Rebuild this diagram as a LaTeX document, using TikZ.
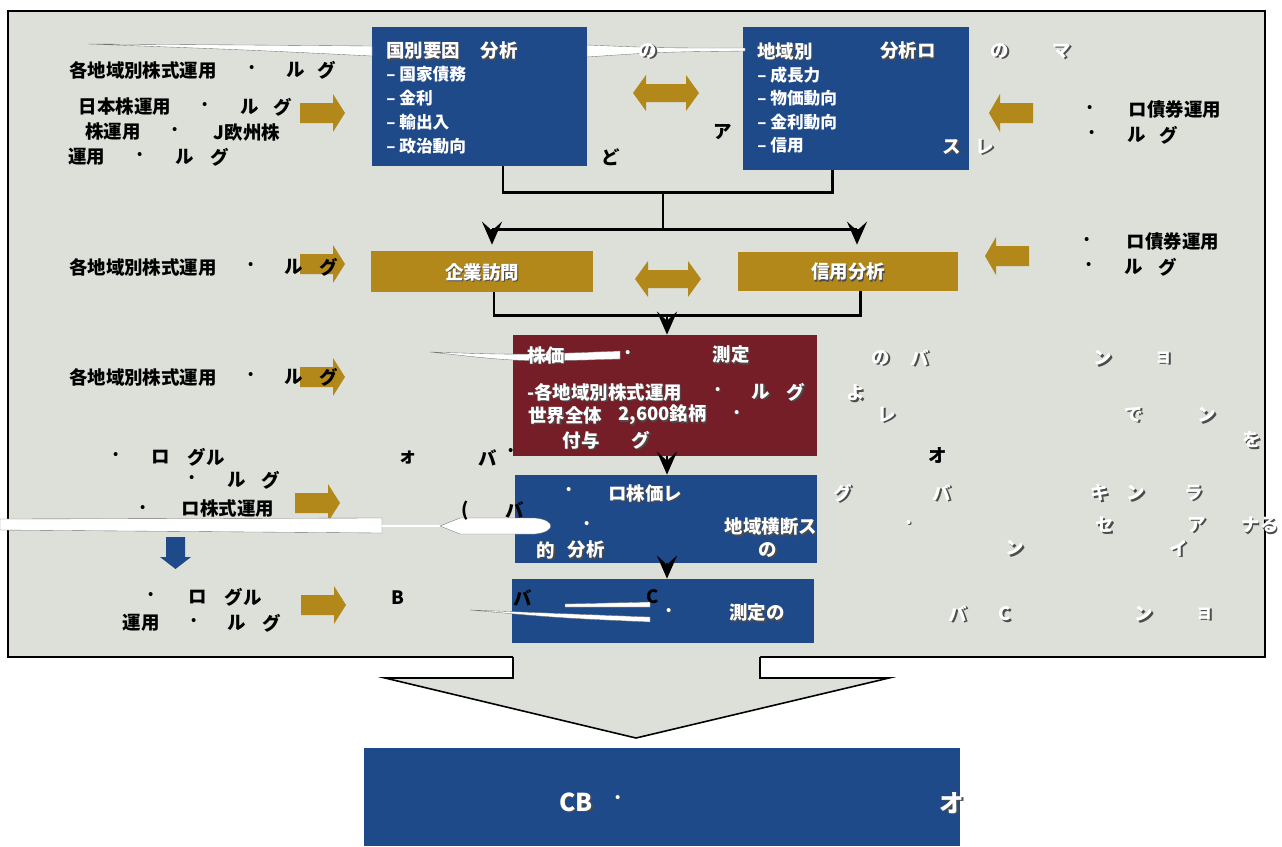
\documentclass[tikz,border=0pt]{standalone}
\usepackage{fontspec}
\setmainfont{Noto Sans CJK JP}
\usepackage{xcolor}
\usetikzlibrary{arrows.meta}
\definecolor{panelgray}{RGB}{220,224,216}
\definecolor{boxblue}{RGB}{31,74,138}
\definecolor{boxgold}{RGB}{178,136,26}
\definecolor{boxred}{RGB}{117,30,39}
\tikzset{>=Stealth}
\tikzset{
  jp/.style={font=\bfseries\fontsize{10.5}{12}\selectfont, inner sep=0pt},
  blk/.style={jp, text=black},
  wht/.style={jp, text=white},
  shd/.style={jp, text=black!70},
  item/.style={jp, text=white, anchor=west, font=\bfseries\fontsize{9.5}{11}\selectfont},
  big/.style={jp, text=white, font=\bfseries\fontsize{14}{16}\selectfont},
  box/.style={inner sep=0pt, draw=none},
  conn/.style={line width=1.7pt, line join=miter},
  flow/.style={conn, -{Stealth[length=0.46cm,width=0.4cm,inset=0.18cm]}},
  streak/.style={fill=white, draw=black!55, line width=0.2pt},
}

\begin{document}
\begin{tikzpicture}[x=0.02cm, y=-0.02cm]
    \useasboundingbox (0,0) rectangle (1282,846);
    \fill[white] (0,0) rectangle (1282,846);
    % panel and the big arrow below it
    \filldraw[fill=panelgray, draw=black, line width=0.9pt] (8,11) rectangle (1265,657);
    \fill[panelgray] (513,655) -- (513,678) -- (385,678) -- (636,738) -- (889,678) -- (760,678) -- (760,655) -- cycle;
    \draw[line width=0.9pt] (513,657) -- (513,678) -- (385,678) -- (636,738) -- (889,678) -- (760,678) -- (760,657);

    % boxes
    \node[box, fill=boxblue, minimum width=4.30cm, minimum height=2.78cm] (b1) at (479.5,96.5) {};
    \node[box, fill=boxblue, minimum width=4.52cm, minimum height=2.86cm] (b2) at (856,98.5) {};
    \node[box, fill=boxgold, minimum width=4.44cm, minimum height=0.82cm] (g1) at (482,271.5) {};
    \node[box, fill=boxgold, minimum width=4.40cm, minimum height=0.78cm] (g2) at (848,271.5) {};
    \node[box, fill=boxred, minimum width=6.08cm, minimum height=2.42cm] (r1) at (665,395.5) {};
    \node[box, fill=boxblue, minimum width=6.04cm, minimum height=1.76cm] (b3) at (666,519) {};
    \node[box, fill=boxblue, minimum width=6.04cm, minimum height=1.28cm] (b4) at (663,611) {};
    \node[box, fill=boxblue, minimum width=11.92cm, minimum height=1.96cm] (b5) at (662,797) {};

    % connectors
    \coordinate (k1) at (503,192);
    \coordinate (k2) at (832,192);
    \coordinate (k3) at (663,192);
    \coordinate (k4) at (663,229);
    \coordinate (k5) at (492,229);
    \coordinate (k6) at (857,229);
    \coordinate (k7) at (494,315);
    \coordinate (k8) at (860,315);
    \coordinate (k9) at (667,315);
    \draw[conn] (b1.south -| k1) -- (k1) -- (k2) -- (b2.south -| k2);
    \draw[conn] (k3) -- (k4);
    \draw[conn] (k5) -- (k6);
    \draw[flow, shorten >=0.12cm] (k5) -- (g1.north -| k5);
    \draw[flow, shorten >=0.14cm] (k6) -- (g2.north -| k6);
    \draw[conn] (g1.south -| k7) -- (k7) -- (k8) -- (g2.south -| k8);
    \draw[flow] (k9) -- (r1.north -| k9);
    \draw[flow] (r1.south -| k9) -- (b3.north -| k9);
    \draw[flow] (b3.south -| k9) -- (b4.north -| k9);

    % block arrows
    \foreach \x/\y in {300/113, 300/264, 300/377, 295/503, 301/605}
        \fill[boxgold] (\x,\y-10) -- ++(33,0) -- ++(0,-9) -- ++(12,19) -- ++(-12,19) -- ++(0,-9) -- ++(-33,0) -- cycle;
    \foreach \x/\y in {989/113, 985/256}
        \fill[boxgold] (\x,\y) -- ++(11,-19) -- ++(0,9) -- ++(33,0) -- ++(0,20) -- ++(-33,0) -- ++(0,9) -- cycle;
    \foreach \x/\y in {633/93, 635/279}
        \fill[boxgold] (\x,\y) -- ++(13,-18) -- ++(0,9) -- ++(40,0) -- ++(0,-9) -- ++(13,18) -- ++(-13,18) -- ++(0,-9) -- ++(-40,0) -- ++(0,9) -- cycle;
    \fill[boxblue] (166,537) -- (185,537) -- (185,557) -- (191,557) -- (175.5,569) -- (160,557) -- (166,557) -- cycle;

    % white streaks
    \filldraw[streak] (88,44) .. controls (250,45) .. (372,46) -- (372,56) .. controls (250,50) .. (88,44) -- cycle;
    \filldraw[streak] (587,45) .. controls (660,48) .. (745,48) -- (745,51) .. controls (660,52) .. (587,57) -- cycle;
    \filldraw[streak] (430,352) .. controls (520,355) .. (620,351) -- (620,359) .. controls (520,362) .. (430,352) -- cycle;
    \filldraw[streak] (0,519) -- (382,518) -- (382,533) -- (0,530) -- cycle;
    \draw[white, line width=1.5pt] (382,526) -- (452,526);
    \filldraw[streak] (440,526) -- (460,518) -- (535,518) .. controls (556,520) and (556,532) .. (535,534) -- (460,534) -- cycle;
    \filldraw[streak] (470,610) .. controls (560,618) .. (650,622) -- (650,617) .. controls (560,614) .. (470,610) -- cycle;
    \filldraw[streak] (565,604) -- (650,602) -- (650,607) -- (565,607) -- cycle;

    % black texts
    \foreach \x/\y/\t [count=\i] in {143/70/各地域別株式運用, 252/70/·, 296/70/ル, 327/70/グ,
        125/107/日本株運用, 205/107/·, 250/107/ル, 283/107/グ,
        113/132/株運用, 175/132/·, 247/132/J欧州株,
        87/157/運用, 140/157/·, 185/157/ル, 220/157/グ,
        723/132/ア, 611/157/ど,
        1090/110/·, 1175/110/ロ債券運用, 1092/135/·, 1137/135/ル, 1169/135/グ,
        143/267/各地域別株式運用, 251/267/·, 294/267/ル, 329/267/グ,
        1087/242/·, 1173/242/ロ債券運用, 1089/267/·, 1134/267/ル, 1168/267/グ,
        143/377/各地域別株式運用, 251/377/·, 294/377/ル, 329/377/グ,
        116/457/·, 161/457/ロ, 206/457/グル, 408/458/ォ, 488/458/バ, 511/453/·, 938/455/オ,
        192/480/·, 237/480/ル, 271/480/グ,
        143/510/·, 228/508/ロ株式運用, 465/511/(, 515/510/バ,
        151/597/·, 198/597/ロ, 243/597/グル,
        141/623/運用, 194/623/·, 237/623/ル, 272/623/グ,
        398/598/B, 523/598/バ, 653/597/C}
        \node[blk] (bk\i) at (\x,\y) {\t};

    % white texts, each with its dark shadow
    \foreach \x/\y/\t [count=\i] in {423/51/国別要因, 499/51/分析, 648/51/の,
        785/51/地域別, 908/51/分析ロ, 1000/51/の, 1062/51/マ, 952/147/ス, 985/147/レ,
        482/272/企業訪問, 848/272/信用分析,
        546/355/株価, 628/355/·, 731/355/測定, 718/392/·, 761/392/ル, 796/392/グ, 737/415/·,
        581/440/付与, 641/440/グ,
        881/358/の, 920/358/バ, 1103/358/ン, 1164/358/ョ, 856/393/よ,
        887/415/レ, 1134/415/で, 1207/415/ン, 1252/440/を,
        569/492/·, 645/493/ロ株価レ, 587/526/·, 771/527/地域横断ス,
        546/550/的, 586/550/分析, 768/550/の,
        843/493/グ, 942/493/バ, 1100/493/キ, 1136/493/ン, 1194/493/ラ,
        909/525/·, 1105/525/セ, 1197/525/ア, 1260/525/ナる, 1015/548/ン, 1179/548/イ,
        669/613/·, 757/613/測定の, 958/614/バ, 1005/614/C, 1144/614/ン, 1205/614/ョ,
        618/800/·}
    {
        \node[shd] (ws\i) at (\x+1.3,\y+1.3) {\t};
        \node[wht] (wt\i) at (\x,\y) {\t};
    }
    \node[shd, anchor=west] (r1as) at (528.3,393.3) {-各地域別株式運用};
    \node[wht, anchor=west] (r1a) at (527,392) {-各地域別株式運用};
    \node[shd, anchor=west] (r1bs) at (529.3,416.3) {世界全体};
    \node[wht, anchor=west] (r1b) at (528,415) {世界全体};
    \node[shd, anchor=west] (r1cs) at (619.3,416.3) {2,600銘柄};
    \node[wht, anchor=west] (r1c) at (618,415) {2,600銘柄};
    \node[big, text=black!70] (cbs) at (577.5,803.5) {CB};
    \node[big] (cb) at (576,802) {CB};
    \node[big, text=black!70] (cbos) at (953.5,804.5) {オ};
    \node[big] (cbo) at (952,803) {オ};

    % list items
    \foreach \y/\t [count=\i] in {74/国家債務, 98/金利, 122/輸出入, 146/政治動向}
        \node[item] (la\i) at (386,\y) {– \t};
    \foreach \y/\t [count=\i] in {75/成長力, 98/物価動向, 122/金利動向, 145/信用}
        \node[item] (lb\i) at (757,\y) {– \t};
\end{tikzpicture}
\end{document}
